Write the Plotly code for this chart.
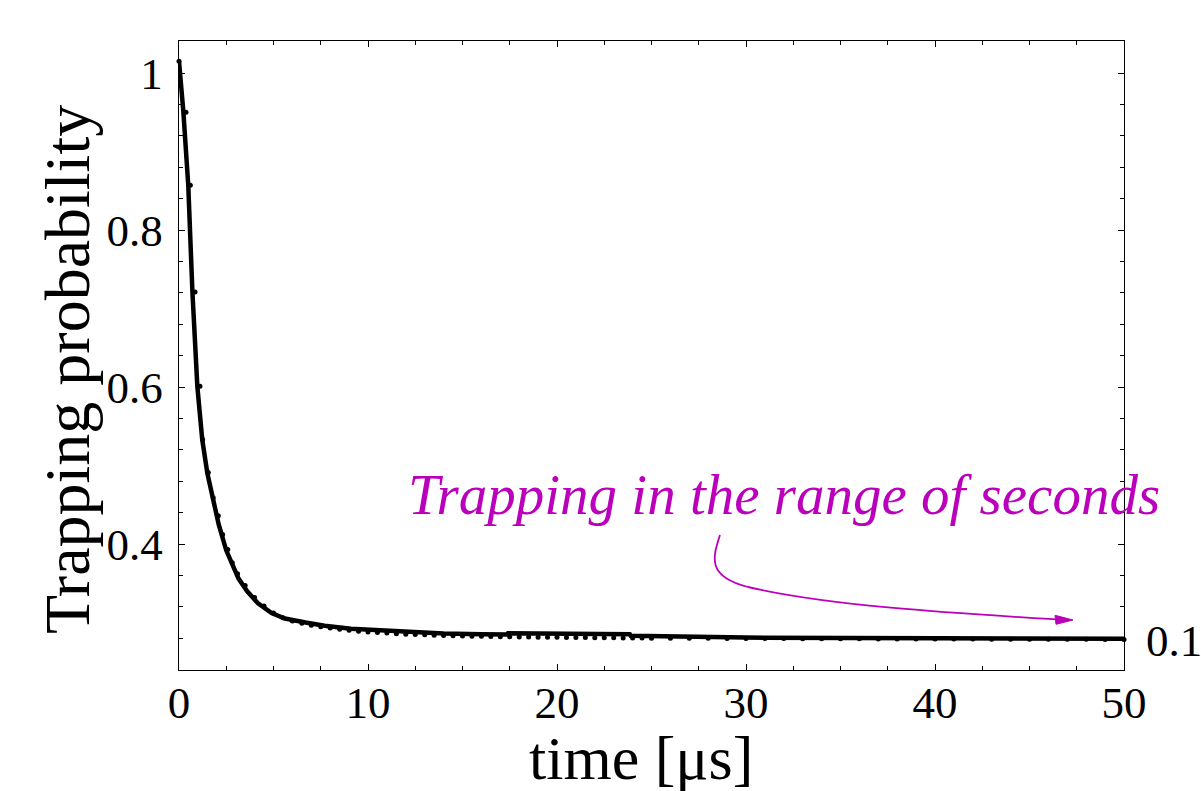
import plotly.graph_objects as go

# ---- data ----
fit_t = [0, 0.23, 0.49, 0.71, 0.97, 1.23, 1.5, 1.8, 2.1, 2.5, 2.85, 3.15, 3.6, 4.2, 4.9,
         5.6, 6.7, 7.7, 9.1, 10.5, 12, 14, 16, 17.35, 17.4, 20, 23.85, 23.9, 30, 40, 50]
fit_p = [1.015, 0.951, 0.857, 0.721, 0.601, 0.533, 0.49, 0.456, 0.425, 0.392, 0.371, 0.356,
         0.340, 0.324, 0.312, 0.305, 0.300, 0.296, 0.292, 0.290, 0.2875, 0.286, 0.2852,
         0.2846, 0.2862, 0.2858, 0.2852, 0.2832, 0.2808, 0.2798, 0.2792]

data_t = [0, 0.37, 0.6, 0.85, 1.11, 1.25, 1.55, 1.81, 2.08, 2.31, 2.58, 2.82, 3.1,
          3.5, 4.0, 4.5, 5.0, 5.5, 6.0, 6.5, 7.0, 7.5, 8.0, 8.5, 9.0, 9.5, 10.0,
          10.5, 11.0, 11.5, 12.0, 12.5, 13.0, 13.5, 14.0, 14.5, 15.0, 15.5, 16.0,
          16.5, 17.0, 17.5, 18.0, 18.5, 19.0, 19.5, 20.0, 20.5, 21.0, 21.5, 22.0,
          22.5, 23.0, 23.5, 24.0, 24.5, 25.0, 26, 27, 28, 29, 30, 31, 32, 33, 34,
          35, 36, 37, 38, 39, 40, 41, 42, 43, 44, 45, 46, 47, 48, 49, 50]
data_p = [1.015, 0.950, 0.857, 0.721, 0.601, 0.533, 0.491, 0.459, 0.436, 0.412, 0.393, 0.376, 0.362,
          0.347, 0.332, 0.321, 0.312, 0.306, 0.302, 0.299, 0.2965, 0.2945, 0.293, 0.2915, 0.290, 0.289, 0.288,
          0.2872, 0.2865, 0.2858, 0.2852, 0.2847, 0.2843, 0.2839, 0.2835, 0.2832, 0.2829, 0.2826, 0.2824,
          0.2822, 0.2820, 0.2818, 0.2816, 0.2815, 0.2813, 0.2812, 0.2811, 0.2810, 0.2809, 0.2808, 0.2807,
          0.2806, 0.2805, 0.2804, 0.2803, 0.2802, 0.2801, 0.2800, 0.2799, 0.2798, 0.2797, 0.2796, 0.2795,
          0.2795, 0.2794, 0.2793, 0.2793, 0.2792, 0.2791, 0.2791, 0.2790, 0.2790, 0.2789, 0.2789, 0.2788,
          0.2788, 0.2787, 0.2787, 0.2786, 0.2786, 0.2785, 0.2785]

x_ticks = [0, 10, 20, 30, 40, 50]
y_ticks = [0.4, 0.6, 0.8, 1.0]
y_tick_text = ["0.4", "0.6", "0.8", "1"]

x_title = "time [μs]"
y_title = "Trapping probability"
note_text = "Trapping in the range of seconds"
right_label = "0.1"

# ---- layout geometry ----
W, H = 1201, 791
ML, MR, MT, MB = 179, 77, 41, 121
XR = [0, 50]
YR = [0.2395, 1.0408]
FONT = "Liberation Serif, Times New Roman, serif"
MAG = "#bb00bb"


def px2x(px):
    return XR[0] + (px - ML) / (W - ML - MR) * (XR[1] - XR[0])


def py2y(py):
    return YR[1] - (py - MT) / (H - MT - MB) * (YR[1] - YR[0])


def pxx(px):
    return (px - ML) / (W - ML - MR)


def pyy(py):
    return 1 - (py - MT) / (H - MT - MB)


fig = go.Figure()
fig.add_trace(go.Scatter(x=fit_t, y=fit_p, mode="lines",
                         line=dict(color="black", width=4.5), showlegend=False,
                         cliponaxis=False))
fig.add_trace(go.Scatter(x=data_t, y=data_p, mode="markers",
                         marker=dict(color="black", size=5), showlegend=False,
                         cliponaxis=False))

arrow_path = (f"M {px2x(720)},{py2y(535)} "
              f"C {px2x(713)},{py2y(557)} {px2x(706)},{py2y(576)} {px2x(748)},{py2y(587)} "
              f"C {px2x(830)},{py2y(606)} {px2x(950)},{py2y(613)} {px2x(1058)},{py2y(619.5)}")
head_path = (f"M {px2x(1073)},{py2y(620)} L {px2x(1055)},{py2y(615.3)} "
             f"L {px2x(1056)},{py2y(624.3)} Z")

fig.update_layout(
    width=W, height=H,
    margin=dict(l=ML, r=MR, t=MT, b=MB, autoexpand=False),
    paper_bgcolor="white", plot_bgcolor="white",
    font=dict(family=FONT, color="black", size=45),
    shapes=[
        dict(type="path", path=arrow_path, xref="x", yref="y",
             line=dict(color=MAG, width=1.8), layer="above"),
        dict(type="path", path=head_path, xref="x", yref="y",
             line=dict(color=MAG, width=1), fillcolor=MAG, layer="above"),
    ],
    annotations=[
        dict(text=note_text, x=px2x(784), y=py2y(494), xref="x", yref="y",
             showarrow=False, xanchor="center", yanchor="middle",
             font=dict(family=FONT, size=57, color=MAG, style="italic")),
        dict(text=right_label, x=pxx(1144), y=pyy(641), xref="paper", yref="paper",
             showarrow=False, xanchor="left", yanchor="middle",
             font=dict(family=FONT, size=45, color="black")),
        dict(text=x_title, x=pxx(641), y=pyy(758), xref="paper", yref="paper",
             showarrow=False, xanchor="center", yanchor="middle",
             font=dict(family=FONT, size=62, color="black")),
        dict(text=y_title, x=pxx(67), y=pyy(370), xref="paper", yref="paper",
             showarrow=False, xanchor="center", yanchor="middle", textangle=-90,
             font=dict(family=FONT, size=64, color="black")),
    ],
)

fig.update_xaxes(
    range=XR, tickmode="array", tickvals=x_ticks, ticktext=[str(v) for v in x_ticks],
    ticks="inside", ticklen=6, tickwidth=1.2, tickcolor="black",
    minor=dict(tickmode="linear", tick0=0, dtick=2.5, ticks="inside", ticklen=4,
               tickwidth=1, tickcolor="black", showgrid=False),
    showline=True, linecolor="black", linewidth=1.3, mirror="allticks",
    showgrid=False, zeroline=False, ticklabelstandoff=-7,
    tickfont=dict(family=FONT, size=45),
)
fig.update_yaxes(
    range=YR, tickmode="array", tickvals=y_ticks, ticktext=y_tick_text,
    ticks="inside", ticklen=6, tickwidth=1.2, tickcolor="black",
    minor=dict(tickmode="linear", tick0=0.24, dtick=0.04, ticks="inside", ticklen=4,
               tickwidth=1, tickcolor="black", showgrid=False),
    showline=True, linecolor="black", linewidth=1.3, mirror="allticks",
    showgrid=False, zeroline=False, ticklabelstandoff=6,
    tickfont=dict(family=FONT, size=45),
)

fig.write_html("out.html")
